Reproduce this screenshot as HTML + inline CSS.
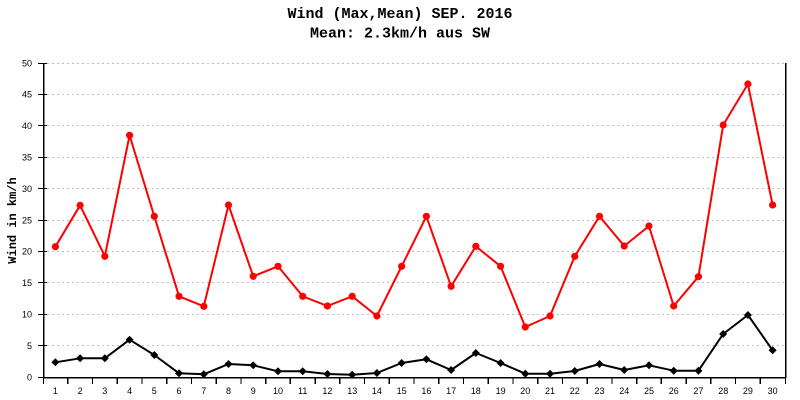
<!DOCTYPE html>
<html><head><meta charset="utf-8"><style>
html,body{margin:0;padding:0;background:#fff;}
svg{display:block;}
</style></head><body>
<svg width="800" height="400" viewBox="0 0 800 400" xmlns="http://www.w3.org/2000/svg">
<rect width="800" height="400" fill="#fff"/>
<!-- title -->
<text x="400" y="18" text-anchor="middle" font-family="Liberation Mono, monospace" font-weight="bold" font-size="15" fill="#000">Wind (Max,Mean) SEP. 2016</text>
<text x="400" y="37.5" text-anchor="middle" font-family="Liberation Mono, monospace" font-weight="bold" font-size="15" fill="#000">Mean: 2.3km/h aus SW</text>
<!-- grid -->
<g stroke="#c0c0c0" stroke-width="1" stroke-dasharray="2,3" shape-rendering="crispEdges">
<line x1="47" y1="345.5" x2="785" y2="345.5"/>
<line x1="47" y1="314.5" x2="785" y2="314.5"/>
<line x1="47" y1="282.5" x2="785" y2="282.5"/>
<line x1="47" y1="251.5" x2="785" y2="251.5"/>
<line x1="47" y1="220.5" x2="785" y2="220.5"/>
<line x1="47" y1="188.5" x2="785" y2="188.5"/>
<line x1="47" y1="157.5" x2="785" y2="157.5"/>
<line x1="47" y1="125.5" x2="785" y2="125.5"/>
<line x1="47" y1="94.5" x2="785" y2="94.5"/>
<line x1="47" y1="63.5" x2="785" y2="63.5"/>
</g>
<!-- axes -->
<g stroke="#000" stroke-width="1.5" shape-rendering="crispEdges">
<line x1="43.5" y1="63" x2="43.5" y2="378"/>
<line x1="785.5" y1="63" x2="785.5" y2="378"/>
<line x1="43" y1="377.5" x2="786" y2="377.5"/>
</g>
<g stroke="#000" stroke-width="1" shape-rendering="crispEdges">
<line x1="38" y1="377.5" x2="47" y2="377.5"/>
<line x1="38" y1="345.5" x2="47" y2="345.5"/>
<line x1="38" y1="314.5" x2="47" y2="314.5"/>
<line x1="38" y1="282.5" x2="47" y2="282.5"/>
<line x1="38" y1="251.5" x2="47" y2="251.5"/>
<line x1="38" y1="220.5" x2="47" y2="220.5"/>
<line x1="38" y1="188.5" x2="47" y2="188.5"/>
<line x1="38" y1="157.5" x2="47" y2="157.5"/>
<line x1="38" y1="125.5" x2="47" y2="125.5"/>
<line x1="38" y1="94.5" x2="47" y2="94.5"/>
<line x1="38" y1="63.5" x2="47" y2="63.5"/>
</g>
<g stroke="#000" stroke-width="1.3" shape-rendering="crispEdges">
<line x1="43.5" y1="377" x2="43.5" y2="384"/><line x1="67.7" y1="377" x2="67.7" y2="384"/><line x1="92.5" y1="377" x2="92.5" y2="384"/><line x1="117.2" y1="377" x2="117.2" y2="384"/><line x1="141.9" y1="377" x2="141.9" y2="384"/><line x1="166.7" y1="377" x2="166.7" y2="384"/><line x1="191.4" y1="377" x2="191.4" y2="384"/><line x1="216.1" y1="377" x2="216.1" y2="384"/><line x1="240.9" y1="377" x2="240.9" y2="384"/><line x1="265.6" y1="377" x2="265.6" y2="384"/><line x1="290.3" y1="377" x2="290.3" y2="384"/><line x1="315.1" y1="377" x2="315.1" y2="384"/><line x1="339.8" y1="377" x2="339.8" y2="384"/><line x1="364.5" y1="377" x2="364.5" y2="384"/><line x1="389.3" y1="377" x2="389.3" y2="384"/><line x1="414" y1="377" x2="414" y2="384"/><line x1="438.7" y1="377" x2="438.7" y2="384"/><line x1="463.5" y1="377" x2="463.5" y2="384"/><line x1="488.2" y1="377" x2="488.2" y2="384"/><line x1="512.9" y1="377" x2="512.9" y2="384"/><line x1="537.7" y1="377" x2="537.7" y2="384"/><line x1="562.4" y1="377" x2="562.4" y2="384"/><line x1="587.1" y1="377" x2="587.1" y2="384"/><line x1="611.9" y1="377" x2="611.9" y2="384"/><line x1="636.6" y1="377" x2="636.6" y2="384"/><line x1="661.3" y1="377" x2="661.3" y2="384"/><line x1="686.1" y1="377" x2="686.1" y2="384"/><line x1="710.8" y1="377" x2="710.8" y2="384"/><line x1="735.5" y1="377" x2="735.5" y2="384"/><line x1="760.3" y1="377" x2="760.3" y2="384"/><line x1="785.5" y1="377" x2="785.5" y2="384"/>
</g>
<!-- y labels -->
<g font-family="Liberation Sans, sans-serif" font-size="9" fill="#000" text-anchor="end">
<text x="32" y="380.5">0</text>
<text x="32" y="349">5</text>
<text x="32" y="317.5">10</text>
<text x="32" y="286">15</text>
<text x="32" y="254.5">20</text>
<text x="32" y="223.5">25</text>
<text x="32" y="192">30</text>
<text x="32" y="160.5">35</text>
<text x="32" y="129">40</text>
<text x="32" y="97.5">45</text>
<text x="32" y="66.5">50</text>
</g>
<!-- x labels -->
<g font-family="Liberation Sans, sans-serif" font-size="9" fill="#000" text-anchor="middle">
<text x="55.4" y="394">1</text><text x="80.1" y="394">2</text><text x="104.8" y="394">3</text><text x="129.6" y="394">4</text><text x="154.3" y="394">5</text><text x="179" y="394">6</text><text x="203.8" y="394">7</text><text x="228.5" y="394">8</text><text x="253.2" y="394">9</text><text x="278" y="394">10</text><text x="302.7" y="394">11</text><text x="327.4" y="394">12</text><text x="352.2" y="394">13</text><text x="376.9" y="394">14</text><text x="401.6" y="394">15</text><text x="426.4" y="394">16</text><text x="451.1" y="394">17</text><text x="475.8" y="394">18</text><text x="500.6" y="394">19</text><text x="525.3" y="394">20</text><text x="550" y="394">21</text><text x="574.8" y="394">22</text><text x="599.5" y="394">23</text><text x="624.2" y="394">24</text><text x="649" y="394">25</text><text x="673.7" y="394">26</text><text x="698.4" y="394">27</text><text x="723.2" y="394">28</text><text x="747.9" y="394">29</text><text x="772.6" y="394">30</text>
</g>
<!-- y axis title -->
<text transform="translate(16,220.5) rotate(-90)" text-anchor="middle" font-family="Liberation Mono, monospace" font-weight="bold" font-size="12" fill="#000">Wind in km/h</text>
<!-- red max series -->
<polyline fill="none" stroke="#ff0000" stroke-width="2" stroke-linejoin="round" points="55.37,246.7 80.10,205.3 104.84,256.3 129.57,135.3 154.30,216.3 179.04,296.3 203.77,306.3 228.50,205 253.23,276.3 277.97,266.3 302.70,296.3 327.43,306 352.17,296.3 376.90,316 401.63,266.3 426.37,216.3 451.10,286.3 475.83,246.3 500.57,266.3 525.30,327 550.03,316 574.77,256.3 599.50,216.3 624.23,246 648.97,226 673.70,306 698.43,276.7 723.17,125 747.90,84 772.63,205"/>
<g fill="#ff0000">
<circle cx="55.37" cy="246.7" r="3.6"/><circle cx="80.10" cy="205.3" r="3.6"/><circle cx="104.84" cy="256.3" r="3.6"/><circle cx="129.57" cy="135.3" r="3.6"/><circle cx="154.30" cy="216.3" r="3.6"/><circle cx="179.04" cy="296.3" r="3.6"/><circle cx="203.77" cy="306.3" r="3.6"/><circle cx="228.50" cy="205" r="3.6"/><circle cx="253.23" cy="276.3" r="3.6"/><circle cx="277.97" cy="266.3" r="3.6"/><circle cx="302.70" cy="296.3" r="3.6"/><circle cx="327.43" cy="306" r="3.6"/><circle cx="352.17" cy="296.3" r="3.6"/><circle cx="376.90" cy="316" r="3.6"/><circle cx="401.63" cy="266.3" r="3.6"/><circle cx="426.37" cy="216.3" r="3.6"/><circle cx="451.10" cy="286.3" r="3.6"/><circle cx="475.83" cy="246.3" r="3.6"/><circle cx="500.57" cy="266.3" r="3.6"/><circle cx="525.30" cy="327" r="3.6"/><circle cx="550.03" cy="316" r="3.6"/><circle cx="574.77" cy="256.3" r="3.6"/><circle cx="599.50" cy="216.3" r="3.6"/><circle cx="624.23" cy="246" r="3.6"/><circle cx="648.97" cy="226" r="3.6"/><circle cx="673.70" cy="306" r="3.6"/><circle cx="698.43" cy="276.7" r="3.6"/><circle cx="723.17" cy="125" r="3.6"/><circle cx="747.90" cy="84" r="3.6"/><circle cx="772.63" cy="205" r="3.6"/>
</g>
<!-- black mean series -->
<polyline fill="none" stroke="#000" stroke-width="2" stroke-linejoin="round" points="55.37,362.3 80.10,358.3 104.84,358.3 129.57,339.7 154.30,355 179.04,373.3 203.77,374.3 228.50,364 253.23,365.3 277.97,371.3 302.70,371.3 327.43,374 352.17,374.7 376.90,373 401.63,363 426.37,359.3 451.10,370 475.83,353 500.57,363 525.30,373.7 550.03,373.7 574.77,371 599.50,364 624.23,370 648.97,365.3 673.70,370.7 698.43,370.7 723.17,334 747.90,315 772.63,350.3"/>
<g fill="#000">
<path d="M55.37,358.3 l4,4 l-4,4 l-4,-4z M80.10,354.3 l4,4 l-4,4 l-4,-4z M104.84,354.3 l4,4 l-4,4 l-4,-4z M129.57,335.7 l4,4 l-4,4 l-4,-4z M154.30,351 l4,4 l-4,4 l-4,-4z M179.04,369.3 l4,4 l-4,4 l-4,-4z M203.77,370.3 l4,4 l-4,4 l-4,-4z M228.50,360 l4,4 l-4,4 l-4,-4z M253.23,361.3 l4,4 l-4,4 l-4,-4z M277.97,367.3 l4,4 l-4,4 l-4,-4z M302.70,367.3 l4,4 l-4,4 l-4,-4z M327.43,370 l4,4 l-4,4 l-4,-4z M352.17,370.7 l4,4 l-4,4 l-4,-4z M376.90,369 l4,4 l-4,4 l-4,-4z M401.63,359 l4,4 l-4,4 l-4,-4z M426.37,355.3 l4,4 l-4,4 l-4,-4z M451.10,366 l4,4 l-4,4 l-4,-4z M475.83,349 l4,4 l-4,4 l-4,-4z M500.57,359 l4,4 l-4,4 l-4,-4z M525.30,369.7 l4,4 l-4,4 l-4,-4z M550.03,369.7 l4,4 l-4,4 l-4,-4z M574.77,367 l4,4 l-4,4 l-4,-4z M599.50,360 l4,4 l-4,4 l-4,-4z M624.23,366 l4,4 l-4,4 l-4,-4z M648.97,361.3 l4,4 l-4,4 l-4,-4z M673.70,366.7 l4,4 l-4,4 l-4,-4z M698.43,366.7 l4,4 l-4,4 l-4,-4z M723.17,330 l4,4 l-4,4 l-4,-4z M747.90,311 l4,4 l-4,4 l-4,-4z M772.63,346.3 l4,4 l-4,4 l-4,-4z"/>
</g>
</svg>
</body></html>
